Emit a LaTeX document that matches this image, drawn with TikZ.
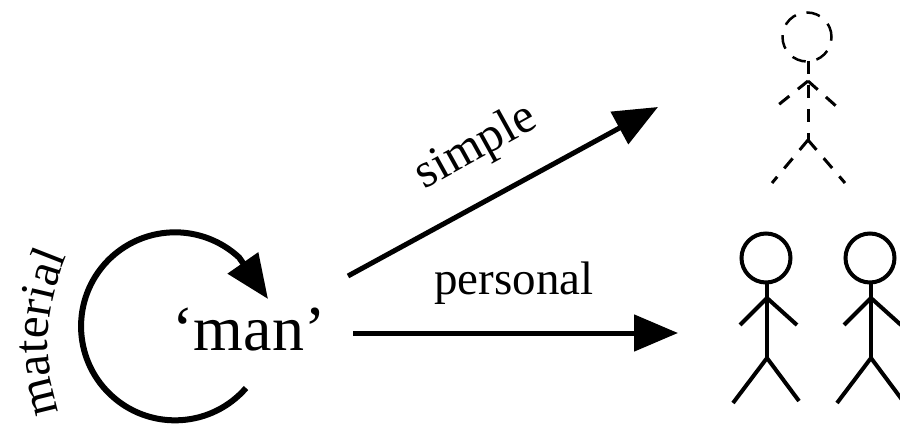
\documentclass[tikz,border=0pt]{standalone}
\usepackage{fontspec}
\setmainfont{Liberation Serif}
\usetikzlibrary{arrows.meta,decorations.text}
\tikzset{
    bigLabel/.style={font=\fontsize{64}{70}\selectfont, inner sep=0pt},
    wordLabel/.style={font=\fontsize{47}{50}\selectfont, inner sep=0pt},
    thickArrow/.style={line width=5pt, -{Triangle[length=44pt,width=36pt]}},
    headSolid/.style={circle, draw=black, line width=4pt, minimum size=49pt, inner sep=0pt},
    headDashed/.style={circle, draw=black, line width=2.5pt, minimum size=49pt, inner sep=0pt, dash pattern=on 14pt off 11pt},
    limbSolid/.style={line width=4pt},
    limbDashed/.style={line width=3pt, dash pattern=on 13pt off 11pt}
}

\begin{document}
\begin{tikzpicture}[x=1pt,y=-1pt]

\path[use as bounding box] (0,0) rectangle (900,425);
\clip (0,0) rectangle (900,425);

% ----------------------------
% Labels
% ----------------------------
\node[bigLabel,anchor=base] (man) at (249,350) {‘man’};
\node[wordLabel,anchor=base,rotate=29,font=\fontsize{49}{54}\selectfont] (simple) at (482,158) {simple};
\node[wordLabel,anchor=base] (personal) at (514,294) {personal};

\path[decorate,decoration={text along path,text align=center,
    text={|\fontsize{49}{54}\selectfont|material}}]
    (62,420) .. controls (42,365) and (42,310) .. (70,248);

% ----------------------------
% Arrows
% ----------------------------
\coordinate (ringStart) at (246,388);
\coordinate (ringTip) at (268,299);
\coordinate (simpleStart) at (348,276);
\coordinate (simpleTip) at (658,107);
\coordinate (personalStart) at (353,333);
\coordinate (personalTip) at (678,333);

\draw[thickArrow,line width=6pt] (ringStart) arc[start angle=41,end angle=313,radius=94] -- (ringTip);
\draw[thickArrow] (simpleStart) -- (simpleTip);
\draw[thickArrow] (personalStart) -- (personalTip);

% ----------------------------
% Solid figures
% ----------------------------
\foreach \i/\x in {0/767,1/871} {
  \node[headSolid] (head\i) at (\x-1,258) {};
  \coordinate (hip\i) at (\x,358);
  \coordinate (neck\i) at (\x,298);
  \draw[limbSolid] (\x,281) -- (hip\i);
  \draw[limbSolid] (\x-27,325) -- (neck\i) -- (\x+30,325);
  \draw[limbSolid] (\x-34,403) -- (hip\i) -- (\x+32,401);
}

% ----------------------------
% Dashed figure
% ----------------------------
\node[headDashed] (headTop) at (807,37) {};
\coordinate (neckTop) at (808,81);
\coordinate (hipTop) at (808,140);
\draw[limbDashed] (808,61) -- (hipTop);
\draw[limbDashed] (neckTop) -- (777,106);
\draw[limbDashed] (neckTop) -- (836,106);
\draw[limbDashed] (hipTop) -- (772,183);
\draw[limbDashed] (hipTop) -- (845,183);

\end{tikzpicture}
\end{document}
